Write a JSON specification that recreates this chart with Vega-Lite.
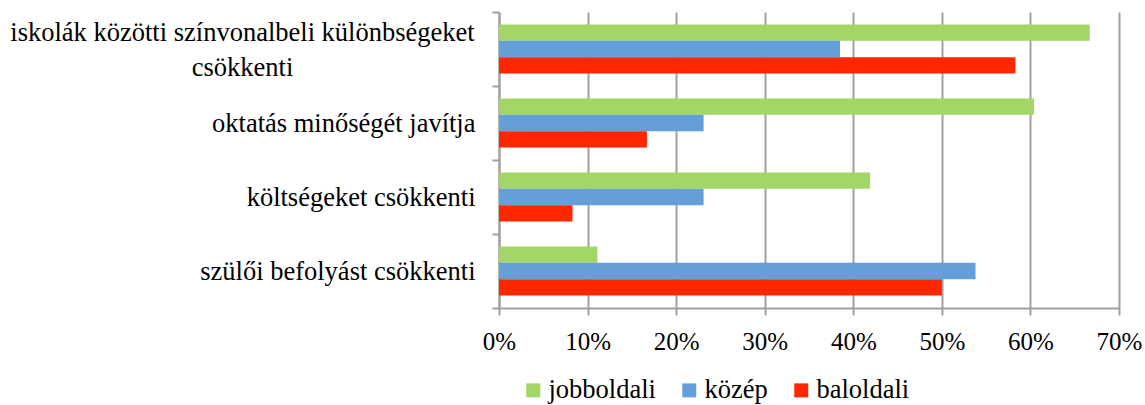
{
  "$schema": "https://vega.github.io/schema/vega-lite/v6.json",
  "width": 620,
  "height": 296,
  "autosize": {"type": "none"},
  "padding": {"left": 499, "top": 12, "right": 26, "bottom": 97},
  "config": {
    "view": {"stroke": null},
    "font": "Liberation Serif, Times New Roman, serif",
    "axis": {"labelFont": "Liberation Serif, Times New Roman, serif", "labelColor": "#000000"},
    "legend": {"labelFont": "Liberation Serif, Times New Roman, serif", "labelColor": "#000000", "padding": 0}
  },
  "data": {
    "values": [
      {"cat": "iskolák közötti színvonalbeli különbségeket csökkenti", "series": "jobboldali", "value": 0.667},
      {"cat": "iskolák közötti színvonalbeli különbségeket csökkenti", "series": "közép", "value": 0.385},
      {"cat": "iskolák közötti színvonalbeli különbségeket csökkenti", "series": "baloldali", "value": 0.583},
      {"cat": "oktatás minőségét javítja", "series": "jobboldali", "value": 0.604},
      {"cat": "oktatás minőségét javítja", "series": "közép", "value": 0.231},
      {"cat": "oktatás minőségét javítja", "series": "baloldali", "value": 0.167},
      {"cat": "költségeket csökkenti", "series": "jobboldali", "value": 0.419},
      {"cat": "költségeket csökkenti", "series": "közép", "value": 0.231},
      {"cat": "költségeket csökkenti", "series": "baloldali", "value": 0.083},
      {"cat": "szülői befolyást csökkenti", "series": "jobboldali", "value": 0.111},
      {"cat": "szülői befolyást csökkenti", "series": "közép", "value": 0.538},
      {"cat": "szülői befolyást csökkenti", "series": "baloldali", "value": 0.5}
    ]
  },
  "mark": {"type": "bar"},
  "encoding": {
    "y": {
      "field": "cat",
      "type": "nominal",
      "sort": ["iskolák közötti színvonalbeli különbségeket csökkenti", "oktatás minőségét javítja", "költségeket csökkenti", "szülői befolyást csökkenti"],
      "scale": {"paddingInner": 0, "paddingOuter": 0},
      "axis": {
        "title": null,
        "tickBand": "extent",
        "domainColor": "#a0a0a0",
        "domainWidth": 2,
        "tickColor": "#a0a0a0",
        "tickWidth": 2,
        "tickSize": 7,
        "labelFontSize": 26.5,
        "labelLimit": 600,
        "labelLineHeight": 35,
        "labelExpr": "datum.label == 'iskolák közötti színvonalbeli különbségeket csökkenti' ? ['iskolák közötti színvonalbeli különbségeket', 'csökkenti'] : datum.label",
        "labelAlign": {"condition": {"test": "datum.value == 'iskolák közötti színvonalbeli különbségeket csökkenti'", "value": "center"}, "value": "right"},
        "labelPadding": {"condition": {"test": "datum.value == 'iskolák közötti színvonalbeli különbségeket csökkenti'", "value": 250}, "value": 17},
        "labelOffset": {"condition": {"test": "datum.value == 'iskolák közötti színvonalbeli különbségeket csökkenti'", "value": -17}, "value": 0}
      }
    },
    "yOffset": {
      "field": "series",
      "type": "nominal",
      "sort": ["jobboldali", "közép", "baloldali"],
      "scale": {"paddingInner": 0, "paddingOuter": 0.765}
    },
    "x": {
      "field": "value",
      "type": "quantitative",
      "scale": {"domain": [0, 0.7], "nice": false},
      "axis": {
        "title": null,
        "values": [0, 0.1, 0.2, 0.3, 0.4, 0.5, 0.6, 0.7],
        "format": ".0%",
        "grid": true,
        "gridColor": "#a0a0a0",
        "gridWidth": 2,
        "domainColor": "#a0a0a0",
        "domainWidth": 2,
        "tickColor": "#a0a0a0",
        "tickWidth": 2,
        "tickSize": 7,
        "labelPadding": 14,
        "labelFontSize": 25,
        "labelFlush": false,
        "labelOverlap": false,
        "labelBound": false
      }
    },
    "color": {
      "field": "series",
      "type": "nominal",
      "sort": ["jobboldali", "közép", "baloldali"],
      "scale": {"domain": ["jobboldali", "közép", "baloldali"], "range": ["#a3d567", "#659fda", "#ff2600"]},
      "legend": {
        "title": null,
        "orient": "none",
        "direction": "horizontal",
        "legendX": 21,
        "legendY": 365,
        "symbolType": "square",
        "symbolSize": 196,
        "symbolStrokeWidth": 0,
        "labelFontSize": 26.5,
        "labelOffset": 2,
        "columnPadding": 20
      }
    }
  }
}
